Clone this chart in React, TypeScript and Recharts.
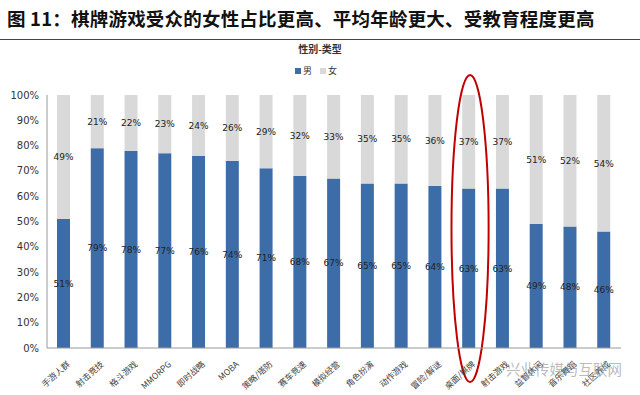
import React from 'react';
import { BarChart, Bar, XAxis, YAxis, LabelList, ReferenceArea } from 'recharts';

const categories = ['手游人群', '射击竞技', '格斗游戏', 'MMORPG', '即时战略', 'MOBA', '策略/塔防', '赛车竞速', '模拟经营', '角色扮演', '动作游戏', '冒险/解谜', '桌面/棋牌', '射击游戏', '益智休闲', '音乐舞蹈', '社区养成'];
const male = [51, 79, 78, 77, 76, 74, 71, 68, 67, 65, 65, 64, 63, 63, 49, 48, 46];
const female = [49, 21, 22, 23, 24, 26, 29, 32, 33, 35, 35, 36, 37, 37, 51, 52, 54];
const yTicks = [0, 10, 20, 30, 40, 50, 60, 70, 80, 90, 100];
const highlight = '桌面/棋牌';
const seriesNames = ['男', '女'];
const colors = ['#3D6DA8', '#D9D9D9'];

const data = categories.map((c, i) => ({ name: c, male: male[i], female: female[i] }));

const CJK = '"Noto Sans CJK SC", "Noto Sans", sans-serif';

const XTick = (props: any) => {
  const { x, y, payload } = props;
  return (
    <g transform={`translate(${x + 4},${y + 6})`}>
      <text transform="rotate(-42)" textAnchor="end" fontSize={8.5} fill="#444" fontFamily={CJK} dy={4}>
        {payload.value}
      </text>
    </g>
  );
};

const Ellipse = (props: any) => {
  const { x, y, width, height } = props;
  return (
    <ellipse
      cx={x + width / 2 + 1}
      cy={y + height / 2 + 7}
      rx={width * 0.55}
      ry={height / 2 + 27}
      fill="none"
      stroke="#C00000"
      strokeWidth={2}
    />
  );
};

export default function App() {
  return (
    <div style={{ position: 'absolute', left: 0, top: 0, width: 640, height: 395, background: '#fff', overflow: 'hidden' }}>
      <div style={{ position: 'absolute', left: 7, top: 5, fontFamily: CJK, fontWeight: 700, fontSize: 18.5, color: '#111', whiteSpace: 'nowrap', letterSpacing: 0.2 }}>
        图 11：棋牌游戏受众的女性占比更高、平均年龄更大、受教育程度更高
      </div>
      <div style={{ position: 'absolute', left: 0, top: 39, width: 640, height: 1, background: '#444' }} />
      <div style={{ position: 'absolute', left: 0, top: 41, width: 640, textAlign: 'center', fontFamily: CJK, fontWeight: 700, fontSize: 10, color: '#333' }}>
        性别-类型
      </div>
      <div style={{ position: 'absolute', left: 0, top: 64, width: 632, display: 'flex', justifyContent: 'center', gap: 8, fontFamily: CJK, fontSize: 9, color: '#333' }}>
        {seriesNames.map((n, i) => (
          <span key={n} style={{ display: 'flex', alignItems: 'center', gap: 2 }}>
            <span style={{ width: 6, height: 6, background: colors[i], display: 'inline-block' }} />
            {n}
          </span>
        ))}
      </div>
      <BarChart width={640} height={395} data={data} margin={{ top: 95, right: 19, bottom: 0, left: 0 }}>
        <XAxis
          dataKey="name"
          interval={0}
          height={47}
          tick={<XTick />}
          tickLine={false}
          axisLine={{ stroke: '#999' }}
        />
        <YAxis
          domain={[0, 100]}
          ticks={yTicks}
          width={47}
          tickFormatter={(v: number) => `${v}%`}
          tick={{ fontSize: 10, fill: '#333', fontFamily: '"DejaVu Sans", sans-serif' }}
          tickLine={false}
          axisLine={{ stroke: '#999' }}
          interval={0}
        />
        <Bar dataKey="male" stackId="a" fill={colors[0]} barSize={13} isAnimationActive={false}>
          <LabelList dataKey="male" position="center" formatter={(v: any) => `${v}%`} fontSize={9} fill="#222" fontFamily='"DejaVu Sans", sans-serif' />
        </Bar>
        <Bar dataKey="female" stackId="a" fill={colors[1]} barSize={13} isAnimationActive={false}>
          <LabelList dataKey="female" position="center" formatter={(v: any) => `${v}%`} fontSize={9} fill="#222" fontFamily='"DejaVu Sans", sans-serif' />
        </Bar>
        <ReferenceArea x1={highlight} x2={highlight} y1={0} y2={100} ifOverflow="visible" shape={<Ellipse />} />
      </BarChart>
      <div style={{ position: 'absolute', left: 506, top: 358, fontFamily: CJK, fontSize: 14.5, color: 'rgba(140,140,140,0.6)', whiteSpace: 'nowrap' }}>
        兴业传媒与互联网
      </div>
    </div>
  );
}
